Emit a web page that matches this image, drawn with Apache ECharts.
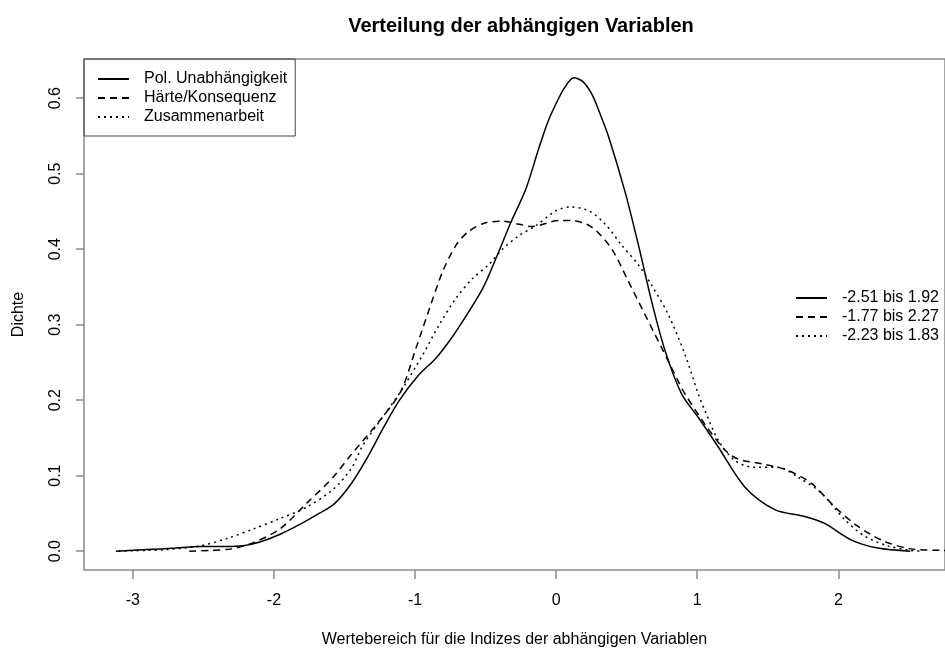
<!DOCTYPE html>
<html>
<head>
<meta charset="utf-8">
<script src="https://cdn.jsdelivr.net/npm/echarts@6/dist/echarts.min.js"></script>
<style>
  html, body { margin: 0; padding: 0; background: #fff; }
  #chart { width: 945px; height: 653px; }
</style>
</head>
<body>
<div id="chart"></div>
<script>
// density curves, [x, density]
const polData = [[-3.12, 0], [-2.9, 0.002], [-2.7, 0.004], [-2.52, 0.006], [-2.35, 0.006], [-2.22, 0.007],
  [-2.1, 0.012], [-1.96, 0.022], [-1.82, 0.035], [-1.68, 0.05], [-1.57, 0.063], [-1.45, 0.09],
  [-1.335, 0.125], [-1.22, 0.165], [-1.11, 0.2], [-0.98, 0.232], [-0.85, 0.256], [-0.75, 0.28],
  [-0.664, 0.304], [-0.52, 0.348], [-0.417, 0.392], [-0.322, 0.435], [-0.216, 0.479], [-0.122, 0.534],
  [-0.06, 0.568], [0, 0.593], [0.06, 0.614], [0.125, 0.627], [0.19, 0.622], [0.254, 0.605],
  [0.31, 0.58], [0.372, 0.549], [0.49, 0.475], [0.584, 0.405],
  [0.678, 0.33], [0.773, 0.265], [0.89, 0.208], [1.008, 0.177], [1.149, 0.138], [1.337, 0.085],
  [1.549, 0.055], [1.761, 0.046], [1.9, 0.037], [2.09, 0.015], [2.28, 0.004], [2.51, 0]]
const haerteData = [[-2.6, 0], [-2.45, 0.001], [-2.3, 0.003], [-2.15, 0.011], [-1.96, 0.029],
  [-1.77, 0.063], [-1.58, 0.098], [-1.465, 0.125], [-1.25, 0.173], [-1.1, 0.212], [-0.993, 0.269],
  [-0.9, 0.32], [-0.805, 0.37], [-0.71, 0.405], [-0.617, 0.424], [-0.5, 0.435], [-0.38, 0.437],
  [-0.263, 0.433], [-0.17, 0.43], [0.02, 0.438], [0.113, 0.438], [0.254, 0.429], [0.395, 0.4],
  [0.513, 0.357], [0.631, 0.313], [0.749, 0.269], [0.866, 0.225], [0.914, 0.208], [1.055, 0.168],
  [1.196, 0.134], [1.29, 0.122], [1.479, 0.115], [1.643, 0.107], [1.808, 0.09], [1.973, 0.059],
  [2.137, 0.033], [2.326, 0.013], [2.514, 0.003], [2.72, 0.001], [2.9, 0]]
const zusammenData = [[-3.1, 0], [-2.9, 0.001], [-2.76, 0.002], [-2.52, 0.007], [-2.33, 0.017],
  [-2.15, 0.029], [-1.96, 0.043], [-1.77, 0.058], [-1.58, 0.082], [-1.45, 0.11], [-1.37, 0.14],
  [-1.22, 0.18], [-1.1, 0.212], [-0.946, 0.26], [-0.828, 0.3], [-0.71, 0.335], [-0.593, 0.361],
  [-0.475, 0.38], [-0.381, 0.4], [-0.263, 0.418], [-0.145, 0.431], [0, 0.451], [0.1, 0.456],
  [0.23, 0.451], [0.349, 0.433], [0.466, 0.405], [0.584, 0.379], [0.678, 0.352], [0.796, 0.313],
  [0.914, 0.26], [1.008, 0.208], [1.055, 0.186], [1.149, 0.147], [1.267, 0.12], [1.408, 0.111],
  [1.573, 0.111], [1.714, 0.098], [1.879, 0.077], [2.044, 0.042], [2.185, 0.02], [2.35, 0.007],
  [2.51, 0.001], [2.6, 0]]

const seriesNames = ['Pol. Unabhängigkeit', 'Härte/Konsequenz', 'Zusammenarbeit']
const rangeNames = ['-2.51 bis 1.92', '-1.77 bis 2.27', '-2.23 bis 1.83']
const xTicks = [-3, -2, -1, 0, 1, 2]
const yTicks = [0, 0.1, 0.2, 0.3, 0.4, 0.5, 0.6]

const font = 'Liberation Sans, Arial, sans-serif'
const grey = '#8a8a8a'
const dashes = ['solid', [7, 5], [2, 4]]
const curves = [polData, haerteData, zusammenData]

const series = []
curves.forEach((d, i) => {
  series.push({
    name: seriesNames[i],
    type: 'line',
    data: d,
    smooth: 0.3,
    showSymbol: false,
    symbol: 'none',
    itemStyle: { color: '#000' },
    lineStyle: { color: '#000', width: 1.5, type: dashes[i] }
  })
})
// second legend: same line styles, value ranges
rangeNames.forEach((n, i) => {
  series.push({
    name: n,
    type: 'line',
    data: [],
    symbol: 'none',
    itemStyle: { color: '#000' },
    lineStyle: { color: '#000', width: 1.5, type: dashes[i] }
  })
})

const legendBase = {
  orient: 'vertical',
  itemWidth: 31,
  itemHeight: 16,
  itemGap: 3,
  selectedMode: false,
  itemStyle: { opacity: 0 },
  textStyle: { fontFamily: font, fontSize: 16, color: '#000', padding: [0, 0, 0, 10] }
}

const chart = echarts.init(document.getElementById('chart'))
chart.setOption({
  animation: false,
  backgroundColor: '#fff',
  textStyle: { fontFamily: font },
  title: {
    text: 'Verteilung der abhängigen Variablen',
    left: 516,
    textAlign: 'center',
    top: 11,
    textStyle: { fontFamily: font, fontSize: 20, fontWeight: 'bold', color: '#000' }
  },
  legend: [Object.assign({}, legendBase, {
    data: seriesNames,
    left: 84,
    top: 59,
    padding: [12, 8, 11, 13],
    borderColor: '#444',
    borderWidth: 1
  }), Object.assign({}, legendBase, {
    data: rangeNames,
    left: 795,
    top: 290,
    padding: 0
  })],
  grid: {
    show: true,
    left: 84,
    top: 59,
    width: 864,
    height: 515,
    borderColor: grey,
    borderWidth: 1.5
  },
  xAxis: {
    type: 'value',
    min: -3.346,
    max: 2.756,
    name: 'Wertebereich für die Indizes der abhängigen Variablen',
    nameLocation: 'middle',
    nameGap: 62,
    nameTextStyle: { fontFamily: font, fontSize: 16, color: '#000' },
    axisLine: { show: false, onZero: false },
    splitLine: { show: false },
    axisTick: { show: true, length: 9, customValues: xTicks, lineStyle: { color: grey, width: 1.5 } },
    axisLabel: {
      customValues: xTicks,
      margin: 23,
      fontFamily: font,
      fontSize: 16,
      color: '#000',
      formatter: v => String(v)
    }
  },
  yAxis: {
    type: 'value',
    min: -0.025,
    max: 0.652,
    name: 'Dichte',
    nameLocation: 'middle',
    nameRotate: 90,
    nameGap: 57,
    nameTextStyle: { fontFamily: font, fontSize: 16, color: '#000' },
    axisLine: { show: false, onZero: false },
    splitLine: { show: false },
    axisTick: { show: true, length: 8, customValues: yTicks, lineStyle: { color: grey, width: 1.5 } },
    axisLabel: {
      customValues: yTicks,
      rotate: 90,
      margin: 20,
      fontFamily: font,
      fontSize: 16,
      color: '#000',
      formatter: v => v.toFixed(1)
    }
  },
  series: series
})
</script>
</body>
</html>
